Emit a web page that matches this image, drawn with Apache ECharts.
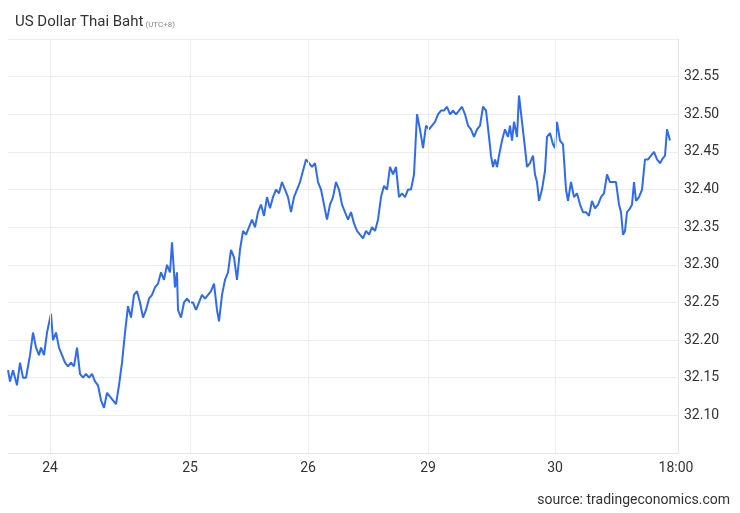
<!DOCTYPE html>
<html>
<head>
<meta charset="utf-8">
<script src="https://cdn.jsdelivr.net/npm/echarts@6/dist/echarts.min.js"></script>
<style>
  html, body { margin: 0; padding: 0; background: #fff; }
  #chart { width: 740px; height: 513px; }
</style>
</head>
<body>
<div id="chart"></div>
<script>
// time position of each sample (horizontal units)
const times = [8,10,13,15,17,20,23,26,30,33,36,39,41,44,47,51,53,56,59,62,65,68,71,74,77,80,83,86,89,92,95,98,101,104,107,110,113,116,119,122,125,128,131,134,137,140,143,146,149,152,155,158,161,164,167,170,172,175,177,178,181,184,187,190,193,196,199,202,205,208,211,214,217,219,222,225,228,231,234,237,240,243,246,249,252,255,258,261,264,267,270,273,276,279,282,285,288,291,294,297,300,303,306,309,312,315,318,321,324,327,330,333,336,339,342,345,348,351,354,357,360,363,366,369,372,375,378,381,384,387,390,393,396,399,402,405,408,411,414,417,420,423,426,429,432,435,438,441,444,447,450,453,456,459,462,465,468,471,474,477,480,483,486,489,491,493,495,497,499,502,505,508,510,512,514,517,519,522,525,527,530,533,535,537,539,542,545,547,550,553,555,557,560,563,566,568,571,574,577,580,583,586,589,592,595,598,601,604,607,610,613,616,619,621,623,625,627,630,632,634,636,639,642,645,648,651,654,657,660,662,665,667,670];
const rates = [32.16,32.145,32.16,32.15,32.14,32.17,32.15,32.15,32.18,32.21,32.19,32.18,32.19,32.18,32.21,32.235,32.20,32.21,32.19,32.18,32.17,32.165,32.17,32.165,32.19,32.155,32.15,32.155,32.15,32.155,32.145,32.14,32.12,32.11,32.13,32.125,32.12,32.115,32.14,32.17,32.21,32.245,32.23,32.26,32.265,32.25,32.23,32.24,32.255,32.26,32.27,32.275,32.29,32.28,32.30,32.29,32.33,32.27,32.29,32.24,32.23,32.25,32.255,32.25,32.25,32.24,32.25,32.26,32.255,32.26,32.265,32.275,32.24,32.225,32.26,32.28,32.29,32.32,32.31,32.28,32.32,32.345,32.34,32.35,32.36,32.35,32.37,32.38,32.365,32.39,32.375,32.39,32.40,32.395,32.41,32.40,32.39,32.37,32.39,32.40,32.41,32.425,32.44,32.435,32.43,32.435,32.41,32.40,32.38,32.36,32.38,32.39,32.41,32.40,32.38,32.37,32.36,32.37,32.355,32.345,32.34,32.335,32.345,32.34,32.35,32.345,32.36,32.39,32.405,32.40,32.43,32.42,32.43,32.39,32.395,32.39,32.40,32.40,32.42,32.50,32.48,32.455,32.485,32.48,32.485,32.49,32.50,32.505,32.505,32.51,32.50,32.505,32.50,32.505,32.51,32.50,32.485,32.48,32.47,32.48,32.485,32.51,32.505,32.47,32.445,32.43,32.44,32.43,32.445,32.465,32.48,32.47,32.485,32.465,32.49,32.47,32.525,32.49,32.455,32.43,32.435,32.445,32.42,32.41,32.385,32.40,32.425,32.47,32.475,32.46,32.455,32.49,32.465,32.46,32.40,32.385,32.41,32.39,32.395,32.38,32.37,32.37,32.365,32.385,32.375,32.38,32.39,32.395,32.42,32.41,32.41,32.41,32.38,32.37,32.34,32.345,32.37,32.375,32.38,32.41,32.385,32.39,32.40,32.44,32.44,32.445,32.45,32.44,32.435,32.44,32.445,32.48,32.465];

// x tick positions and their labels
const tickPos = [50, 190, 308, 428, 555, 676];
const tickLabels = ['24', '25', '26', '29', '30', '18:00'];

var chart = echarts.init(document.getElementById('chart'));

var option = {
    animation: false,
    title: {
        text: 'US Dollar Thai Baht{s|(UTC+8)}',
        left: 10, top: 10,
        textStyle: {
            fontFamily: 'Roboto', fontSize: 15, fontWeight: 'normal', color: '#333',
            rich: { s: { fontSize: 8, color: '#888', padding: [4, 0, 0, 2] } }
        }
    },
    graphic: [{
        type: 'text', right: 10, bottom: 6,
        style: { text: 'source: tradingeconomics.com', font: '14px Roboto', fill: '#333' }
    }],
    grid: { left: 8, right: 62, top: 39, bottom: 60 },
    xAxis: {
        type: 'value', min: 8, max: 678,
        axisLine: { show: true, lineStyle: { color: '#e6e6e6' } },
        axisTick: { show: false },
        splitLine: { show: false },
        axisLabel: {
            customValues: tickPos,
            formatter: function (v) { return tickLabels[tickPos.indexOf(v)]; },
            fontFamily: 'Roboto', fontSize: 14, color: '#333', margin: 8
        }
    },
    yAxis: {
        type: 'value', position: 'right', min: 32.05, max: 32.60, interval: 0.05,
        axisLine: { show: true, lineStyle: { color: '#e6e6e6' } },
        axisTick: { show: false },
        splitLine: { lineStyle: { color: '#ececec' } },
        axisLabel: {
            fontFamily: 'Roboto', fontSize: 14, color: '#333', margin: 6,
            formatter: function (v) {
                return (v < 32.07 || v > 32.58) ? '' : v.toFixed(2);
            }
        }
    },
    series: [{
        type: 'line',
        data: times.map((t, i) => [t, rates[i]]),
        showSymbol: false,
        lineStyle: { color: '#2f6bef', width: 2 },
        markLine: {
            silent: true, symbol: 'none', label: { show: false },
            lineStyle: { color: '#ededed', type: 'solid', width: 1 },
            data: tickPos.slice(0, 5).map(p => ({ xAxis: p }))
        }
    }]
};

chart.setOption(option);

window.addEventListener('resize', function () {
    chart.resize();
});
</script>
</body>
</html>
